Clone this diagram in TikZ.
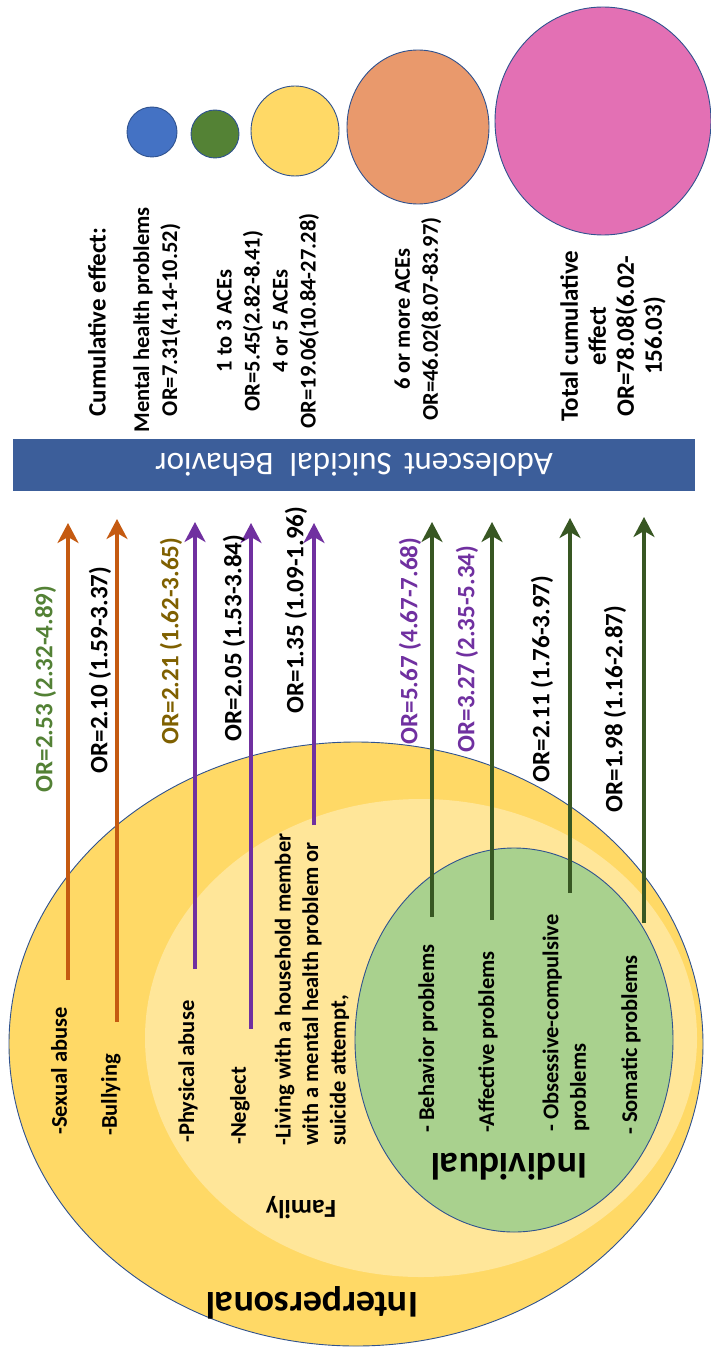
\documentclass[tikz,border=0pt]{standalone}
\usepackage{fontspec}
\setmainfont{Carlito}
\usetikzlibrary{shapes.geometric, arrows.meta}
\definecolor{ringblue}{RGB}{47,82,143}
\definecolor{barblue}{RGB}{60,94,154}
\definecolor{cblue}{RGB}{68,114,196}
\definecolor{cgreen}{RGB}{84,130,53}
\definecolor{cyellow}{RGB}{255,217,102}
\definecolor{corange}{RGB}{233,153,108}
\definecolor{cpink}{RGB}{227,112,180}
\definecolor{interpfill}{RGB}{255,217,102}
\definecolor{familyfill}{RGB}{255,230,153}
\definecolor{indivfill}{RGB}{169,209,142}
\definecolor{arroworange}{RGB}{197,90,17}
\definecolor{arrowpurple}{RGB}{112,48,160}
\definecolor{arrowgreen}{RGB}{56,87,35}
\definecolor{orgreen}{RGB}{83,129,53}
\definecolor{orbrown}{RGB}{127,96,0}
\definecolor{orpurple}{RGB}{112,48,160}
\begin{document}
\begin{tikzpicture}[x=1pt, y=-1pt,
  ring/.style={draw=ringblue, line width=0.9pt, inner sep=0pt},
  cum/.style={rotate=90, align=center, inner sep=0pt, font=\fontsize{25}{28}\selectfont\bfseries},
  cumsmall/.style={cum, font=\fontsize{22.5}{28}\selectfont\bfseries},
  orlbl/.style={rotate=90, inner sep=0pt, font=\fontsize{25}{28}\selectfont\bfseries},
  item/.style={rotate=90, anchor=west, align=left, inner sep=0pt, font=\fontsize{22.5}{27.5}\selectfont\bfseries},
  level/.style={rotate=180, inner sep=0pt, font=\fontsize{38}{40}\selectfont\bfseries},
  effect/.style={-{Stealth[length=20pt, width=21pt, inset=6pt]}, line width=3.3pt}]
\useasboundingbox (0,0) rectangle (710,1348);

% Cumulative effect circles
\node[ring, circle, fill=cblue, minimum size=50pt] (c1) at (152,132) {};
\node[ring, circle, fill=cgreen, minimum size=48pt] (c2) at (215,134) {};
\node[ring, ellipse, fill=cyellow, minimum width=88pt, minimum height=90pt] (c3) at (295,131) {};
\node[ring, ellipse, fill=corange, minimum width=142pt, minimum height=154pt] (c4) at (418,127) {};
\node[ring, ellipse, fill=cpink, minimum width=216pt, minimum height=228pt] (c5) at (603,121) {};

% Cumulative effect text
\node[cum] (cumhead) at (97,322) {Cumulative effect:};
\node[cumsmall] (cummental) at (157,320) {Mental health problems\\OR=7.31(4.14-10.52)};
\node[cumsmall] (cumfew) at (268,321) {1 to 3 ACEs\\OR=5.45(2.82-8.41)\\4 or 5 ACEs\\OR=19.06(10.84-27.28)};
\node[cumsmall] (cummany) at (418,319) {6 or more ACEs\\OR=46.02(8.07-83.97)};
\node[cum] (cumtotal) at (613,336) {Total cumulative\\effect\\OR=78.08(6.02-\\156.03)};

% Outcome bar
\node[fill=barblue, minimum width=682pt, minimum height=52pt, inner sep=0pt,
  rotate=180, text=white, font=\fontsize{33}{36}\selectfont] (bar) at (354,465)
  {Adolescent\hspace{12pt}Suicidal\hspace{16pt}Behavior};

% Ecological levels
\node[ring, ellipse, fill=interpfill, minimum width=694pt, minimum height=604pt] (interp) at (356,1044) {};
\node[ellipse, fill=familyfill, minimum width=552pt, minimum height=478pt, inner sep=0pt] (family) at (421,1038) {};
\node[ring, ellipse, fill=indivfill, minimum width=318pt, minimum height=384pt] (indiv) at (514,1040) {};
\node[level] (interplbl) at (312,1303) {Interpersonal};
\node[level] (indivlbl) at (509,1167) {Individual};
\node[level, font=\fontsize{26}{28}\selectfont\bfseries] (familylbl) at (301,1208) {Family};

% Interpersonal factors
\node[item] (sexlbl) at (59,1135) {-Sexual abuse};
\node[item] (bullylbl) at (111,1136) {-Bullying};
\coordinate (sex-from) at (68,980);
\coordinate (sex-to) at (68,523);
\coordinate (bully-from) at (117,1022);
\coordinate (bully-to) at (117,519);
\draw[effect, arroworange] (sex-from) -- (sex-to);
\draw[effect, arroworange] (bully-from) -- (bully-to);
\node[orlbl, text=orgreen] (sexor) at (45,689) {OR=2.53 (2.32-4.89)};
\node[orlbl] (bullyor) at (100,670) {OR=2.10 (1.59-3.37)};

% Family factors
\node[item] (physlbl) at (188,1143) {-Physical abuse};
\node[item] (negllbl) at (240,1145) {-Neglect};
\node[item] (houselbl) at (312,1146) {-Living with a household member\\with a mental health problem or\\suicide attempt,};
\coordinate (phys-from) at (195,969);
\coordinate (phys-to) at (195,522);
\coordinate (negl-from) at (251,1029);
\coordinate (negl-to) at (251,523);
\coordinate (house-from) at (314,825);
\coordinate (house-to) at (314,523);
\draw[effect, arrowpurple] (phys-from) -- (phys-to);
\draw[effect, arrowpurple] (negl-from) -- (negl-to);
\draw[effect, arrowpurple] (house-from) -- (house-to);
\node[orlbl, text=orbrown] (physor) at (171,641) {OR=2.21 (1.62-3.65)};
\node[orlbl] (neglor) at (234,638) {OR=2.05 (1.53-3.84)};
\node[orlbl] (houseor) at (296,610) {OR=1.35 (1.09-1.96)};

% Individual factors
\node[item] (behavlbl) at (428,1133) {- Behavior problems};
\node[item] (afflbl) at (488,1133) {-Affective problems};
\node[item] (ocdlbl) at (566,1132) {- Obsessive-compulsive\\problems};
\node[item] (somlbl) at (631,1135) {- Somatic problems};
\coordinate (behav-from) at (432,917);
\coordinate (behav-to) at (432,522);
\coordinate (aff-from) at (492,920);
\coordinate (aff-to) at (492,522);
\coordinate (ocd-from) at (570,893);
\coordinate (ocd-to) at (570,518);
\coordinate (som-from) at (644,923);
\coordinate (som-to) at (644,517);
\draw[effect, arrowgreen] (behav-from) -- (behav-to);
\draw[effect, arrowgreen] (aff-from) -- (aff-to);
\draw[effect, arrowgreen] (ocd-from) -- (ocd-to);
\draw[effect, arrowgreen] (som-from) -- (som-to);
\node[orlbl, text=orpurple] (behavor) at (410,641) {OR=5.67 (4.67-7.68)};
\node[orlbl, text=orpurple] (affor) at (467,649) {OR=3.27 (2.35-5.34)};
\node[orlbl] (ocdor) at (542,679) {OR=2.11 (1.76-3.97)};
\node[orlbl] (somor) at (615,709) {OR=1.98 (1.16-2.87)};
\end{tikzpicture}
\end{document}
